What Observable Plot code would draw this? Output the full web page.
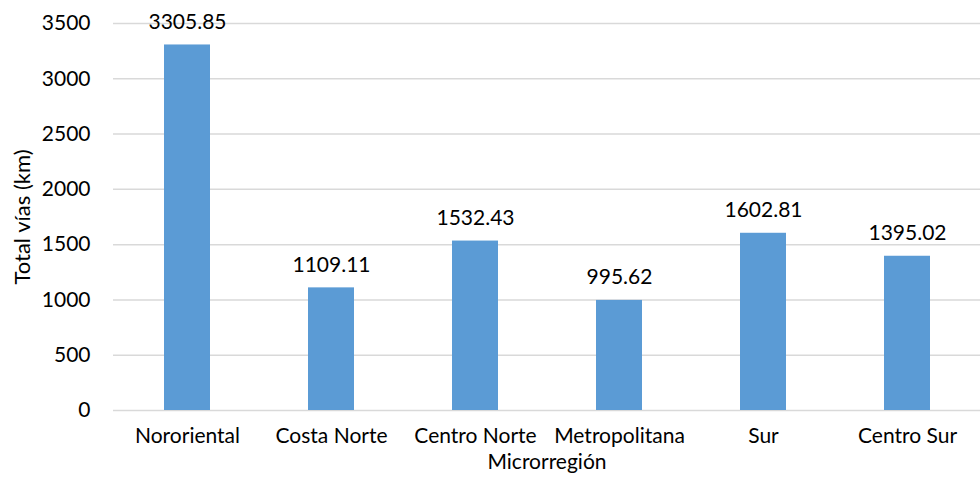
<!DOCTYPE html>
<html>
<head>
<meta charset="utf-8">
<script src="https://cdn.jsdelivr.net/npm/d3@7"></script>
<script src="https://cdn.jsdelivr.net/npm/@observablehq/plot@0.6"></script>
<style>
  html, body { margin: 0; padding: 0; background: #fff; }
</style>
</head>
<body>
<div id="chart"></div>
<script>
const categories = ["Nororiental", "Costa Norte", "Centro Norte", "Metropolitana", "Sur", "Centro Sur"];
const values = [3305.85, 1109.11, 1532.43, 995.62, 1602.81, 1395.02];
const yTicks = [0, 500, 1000, 1500, 2000, 2500, 3000, 3500];
const yTitle = "Total vías (km)";
const xTitle = "Microrregión";

const data = categories.map((c, i) => ({ region: c, total: values[i] }));

const chart = Plot.plot({
  width: 980,
  height: 483,
  marginLeft: 113,
  marginRight: 0,
  marginTop: 23,
  marginBottom: 73,
  style: { fontFamily: "Lato, sans-serif", fontSize: "21px", color: "#000", background: "#fff" },
  x: { domain: categories, padding: 0, label: null },
  y: { domain: [0, 3500], label: null },
  marks: [
    Plot.ruleY(yTicks, { stroke: "#D9D9D9", strokeWidth: 1.5 }),
    Plot.barY(data, { x: "region", y: "total", fill: "#5B9BD5", insetLeft: 49, insetRight: 49 }),
    Plot.text(data, { x: "region", y: "total", text: d => d.total.toFixed(2), lineAnchor: "bottom", dy: -16, fill: "#000", fontSize: 21 }),
    Plot.axisY({ ticks: yTicks, tickFormat: d => String(d), tickSize: 0, tickPadding: 23, label: null, fontSize: 21 }),
    Plot.axisX({ tickSize: 0, tickPadding: 18, label: null, fontSize: 21 }),
    Plot.text([yTitle], { text: d => d, frameAnchor: "left", textAnchor: "middle", rotate: -90, dx: -91, fontSize: 22, fill: "#000" }),
    Plot.text([xTitle], { text: d => d, frameAnchor: "bottom", dy: 58, fontSize: 21, fill: "#000" })
  ]
});
document.getElementById("chart").appendChild(chart);
</script>
</body>
</html>
